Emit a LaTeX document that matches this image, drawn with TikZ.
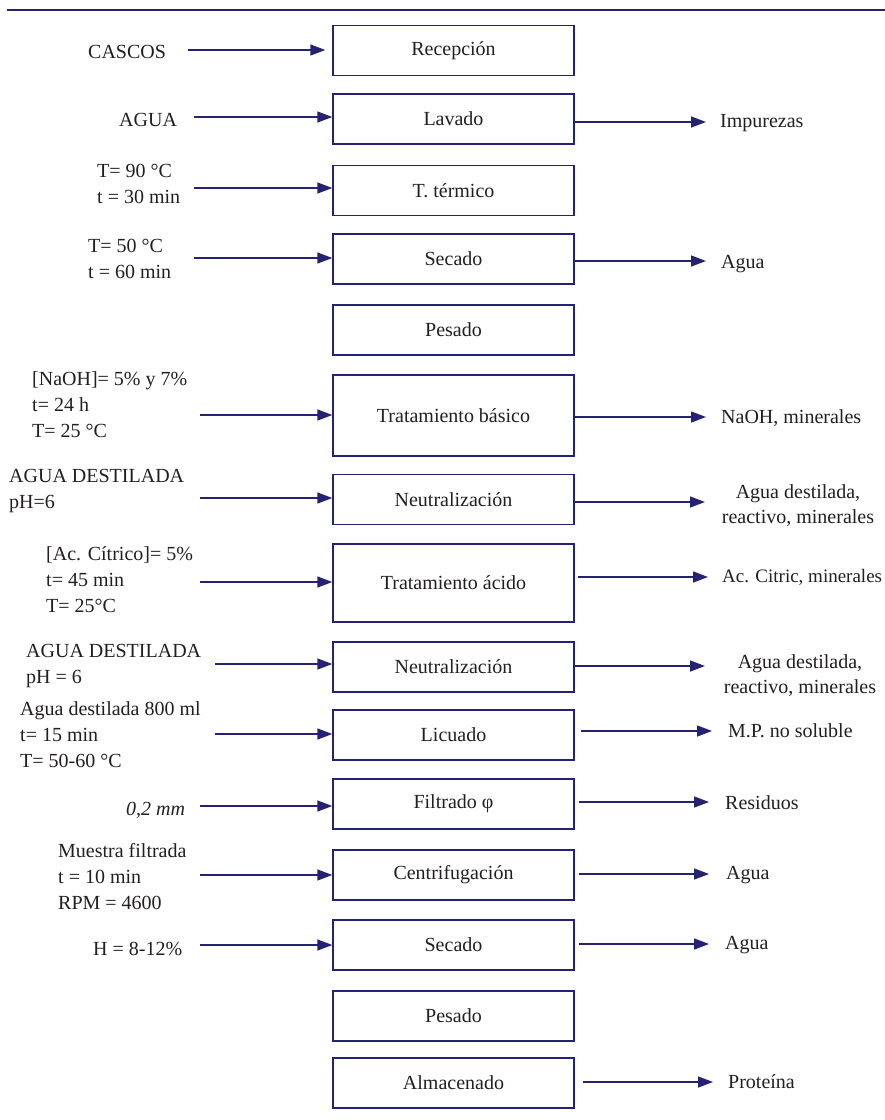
\documentclass[tikz,border=0pt]{standalone}
\usepackage{fontspec}
\setmainfont{Liberation Serif}
\usetikzlibrary{arrows.meta,calc}
\definecolor{navy}{RGB}{38,34,115}
\definecolor{ink}{RGB}{35,31,32}
\begin{document}
\begin{tikzpicture}[x=1pt,y=-1pt,
  font=\fontsize{20}{26}\selectfont, text=ink,
  box/.style={draw=navy, line width=1.4pt, minimum width=241pt, minimum height=50pt, inner sep=0pt},
  tall/.style={box, minimum height=#1},
  arr/.style={draw=navy, line width=1.4pt, -{Triangle[length=15pt,width=11pt]}},
  lbl/.style={anchor=base west, inner sep=0pt, align=left},
  rlbl/.style={anchor=base west, inner sep=0pt},
  rlbltwo/.style={anchor=base, inner sep=0pt, align=center, font=\fontsize{20}{25}\selectfont},
]
\useasboundingbox (0,0) rectangle (885,1120);
\fill[white] (0,0) rectangle (885,1120);
\draw[navy, line width=2pt] (7,10) -- (885,10);

% process boxes
\node[box] (b1) at (453.5,50.5) {Recepción};
\node[box] (b2) at (453.5,119) {Lavado};
\node[box] (b3) at (453.5,190.5) {T. térmico};
\node[box] (b4) at (453.5,259) {Secado};
\node[box] (b5) at (453.5,330) {Pesado};
\node[tall=81pt] (b6) at (453.5,415.5) {Tratamiento básico};
\node[box] (b7) at (453.5,499.5) {Neutralización};
\node[tall=78pt] (b8) at (453.5,583) {Tratamiento ácido};
\node[box] (b9) at (453.5,667) {Neutralización};
\node[box] (b10) at (453.5,735) {Licuado};
\node[box] (b11) at (453.5,804) {Filtrado φ};
\node[box] (b12) at (453.5,875) {Centrifugación};
\node[box] (b13) at (453.5,945) {Secado};
\node[box] (b14) at (453.5,1016) {Pesado};
\node[box] (b15) at (453.5,1083) {Almacenado};

% left inputs (base = baseline of the last line)
\node[lbl] (t1) at (88,58) {CASCOS};
\node[lbl] (t2) at (119,126) {AGUA};
\node[lbl] (t3) at (97,203) {T= 90 °C\\t = 30 min};
\node[lbl] (t4) at (88,278) {T= 50 °C\\t = 60 min};
\node[lbl] (t6) at (32,437) {[NaOH]= 5\% y 7\%\\t= 24 h\\T= 25 °C};
\node[lbl] (t7) at (9,508) {AGUA DESTILADA\\pH=6};
\node[lbl] (t8) at (46,612) {[Ac. Cítrico]= 5\%\\t= 45 min\\T= 25°C};
\node[lbl] (t9) at (26,683) {AGUA DESTILADA\\pH = 6};
\node[lbl] (t10) at (20,767) {Agua destilada 800 ml\\t= 15 min\\T= 50-60 °C};
\node[lbl, font=\fontsize{20}{26}\selectfont\itshape] (t11) at (126,815) {0,2 mm};
\node[lbl] (t12) at (58,909) {Muestra filtrada\\t = 10 min\\RPM = 4600};
\node[lbl] (t13) at (93,955) {H = 8-12\%};

\coordinate (l1) at (188,50);
\coordinate (l2) at (194,117);
\coordinate (l3) at (194,188);
\coordinate (l4) at (194,258);
\coordinate (l6) at (200,415);
\coordinate (l7) at (200,498);
\coordinate (l8) at (200,582);
\coordinate (l9) at (215,664);
\coordinate (l10) at (215,734);
\coordinate (l11) at (200,806);
\coordinate (l12) at (200,875);
\coordinate (l13) at (200,945);

\draw[arr, shorten >=7pt] (l1) -- (b1.west |- l1);
\foreach \i in {2,3,4,6,7,8,9,10,11,12,13}
  \draw[arr] (l\i) -- (b\i.west |- l\i);

% right outputs
\node[rlbl] (o2) at (720,127) {Impurezas};
\node[rlbl] (o4) at (721,268) {Agua};
\node[rlbl] (o6) at (721,423) {NaOH, minerales};
\node[rlbltwo] (o7) at (798,523) {Agua destilada,\\reactivo, minerales};
\node[rlbl, font=\fontsize{19}{25}\selectfont] (o8) at (722,582) {Ac. Citric, minerales};
\node[rlbltwo] (o9) at (800,693) {Agua destilada,\\reactivo, minerales};
\node[rlbl] (o10) at (728,737) {M.P. no soluble};
\node[rlbl] (o11) at (725,809) {Residuos};
\node[rlbl] (o12) at (726,879) {Agua};
\node[rlbl] (o13) at (725,949) {Agua};
\node[rlbl] (o15) at (728,1088) {Proteína};

\coordinate (r2) at (706,122);
\coordinate (r4) at (706,261);
\coordinate (r6) at (706,417);
\coordinate (r7) at (705,502);
\coordinate (r8) at (708,577);
\coordinate (r9) at (705,666);
\coordinate (r10) at (712,731);
\coordinate (r11) at (709,802);
\coordinate (r12) at (709,874);
\coordinate (r13) at (709,944);
\coordinate (r15) at (713,1082);

\foreach \i/\s in {2/0,4/0,6/0,7/0,8/3,9/0,10/6,11/4,12/4,13/4,15/8}
  \draw[arr, shorten <=\s pt] (b\i.east |- r\i) -- (r\i);
\end{tikzpicture}
\end{document}
